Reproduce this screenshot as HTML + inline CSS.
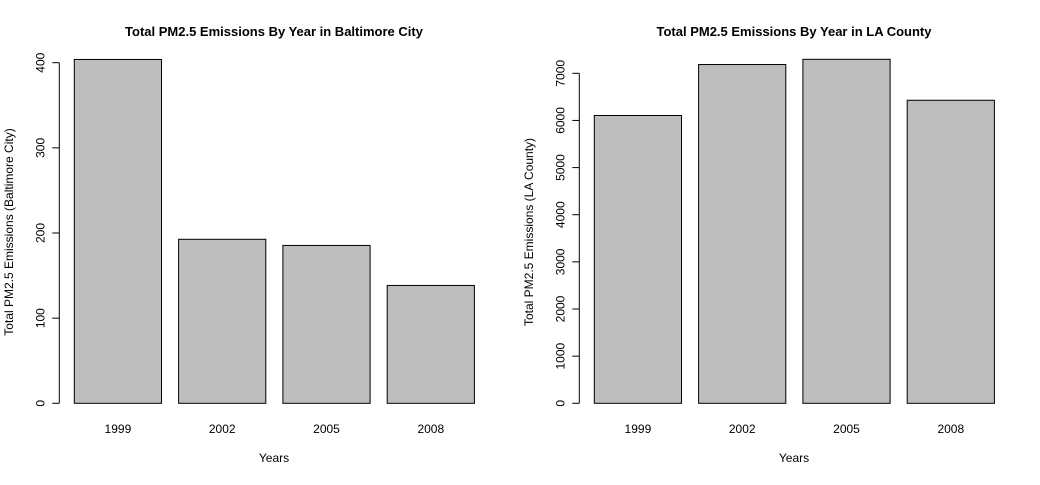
<!DOCTYPE html>
<html><head><meta charset="utf-8"><style>
body{margin:0;background:#fff}
svg text{font-family:"Liberation Sans",Arial,sans-serif;fill:#000}
</style></head><body>
<svg id="s" width="1040" height="480" xmlns="http://www.w3.org/2000/svg"></svg>
<script>
const years = ["1999","2002","2005","2008"];
const baltValues = [403.8, 192.6, 185.4, 138.4];
const laValues = [6105, 7186, 7297, 6428];
const baltTicks = [0,100,200,300,400];
const laTicks = [0,1000,2000,3000,4000,5000,6000,7000];
const NS="http://www.w3.org/2000/svg";
const svg=document.getElementById('s');
function mk(t,a,p){const e=document.createElementNS(NS,t);for(const k in a)e.setAttribute(k,a[k]);(p||svg).appendChild(e);return e;}
function panel(ox,name,title,ylab,vals,ticks,ppu){
  const g=mk('g',{});
  
  
  const y0=403.3;
  const y=v=>y0-v*ppu;
  const barX=i=>ox+74.3+i*104.3;
  vals.forEach((v,i)=>{
    const r=mk('rect',{x:barX(i),y:y(v),width:87.2,height:y0-y(v),fill:'#bebebe',stroke:'#000','stroke-width':1},g);
    
    
    const t=mk('text',{x:barX(i)+43.6,y:433,'font-size':12,'text-anchor':'middle'},g);
    t.textContent=years[i];
    
    
  });
  const ax=ox+59.3;
  mk('line',{x1:ax,x2:ax,y1:y(ticks[0]),y2:y(ticks[ticks.length-1]),stroke:'#000'},g);
  ticks.forEach(tv=>{
    mk('line',{x1:ax-7,x2:ax,y1:y(tv),y2:y(tv),stroke:'#000'},g);
    const t=mk('text',{x:0,y:0,'font-size':12,'text-anchor':'middle',transform:`translate(${ax-15},${y(tv)}) rotate(-90)`},g);
    t.textContent=tv;
    
    
  });
  const tt=mk('text',{x:ox+274,y:36,'font-size':13,'font-weight':'bold','text-anchor':'middle'},g);
  tt.textContent=title;
  
  
  const xl=mk('text',{x:ox+274,y:462,'font-size':12,'text-anchor':'middle'},g);
  xl.textContent='Years';
  
  
  const yl=mk('text',{x:0,y:0,'font-size':12,'text-anchor':'middle',transform:`translate(${ox+13},232) rotate(-90)`},g);
  yl.textContent=ylab;
  
  
}
panel(0,'baltimore-panel','Total PM2.5 Emissions By Year in Baltimore City','Total PM2.5 Emissions (Baltimore City)',baltValues,baltTicks,0.8515);
panel(520,'la-county-panel','Total PM2.5 Emissions By Year in LA County','Total PM2.5 Emissions (LA County)',laValues,laTicks,0.047143);
</script>
</body></html>
